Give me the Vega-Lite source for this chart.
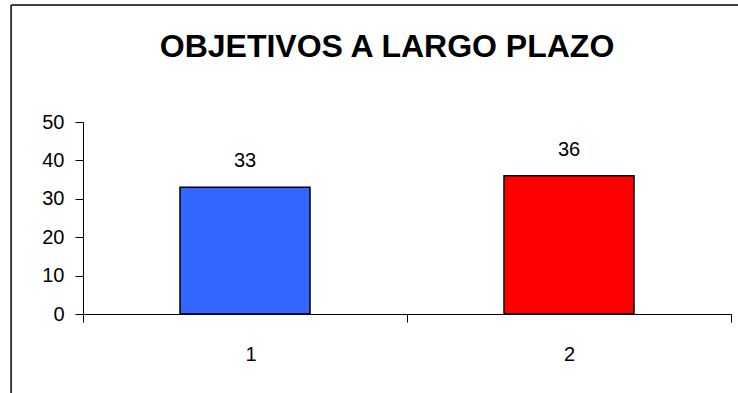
{
  "$schema": "https://vega.github.io/schema/vega-lite/v6.json",
  "autosize": {"type": "none"},
  "padding": {"left": 83, "top": 122, "right": 7, "bottom": 79},
  "width": 648,
  "height": 192,
  "background": "white",
  "title": {
    "text": "OBJETIVOS A LARGO PLAZO",
    "font": "Liberation Sans",
    "fontSize": 32,
    "fontWeight": "bold",
    "color": "black",
    "frame": "group",
    "anchor": "middle",
    "baseline": "alphabetic",
    "offset": 0,
    "dy": 85,
    "dx": -20
  },
  "config": {
    "view": {"stroke": null},
    "axis": {
      "labelFont": "Liberation Sans",
      "labelFontSize": 20,
      "labelColor": "black",
      "domainColor": "black",
      "tickColor": "black",
      "domainWidth": 1,
      "tickWidth": 1,
      "tickSize": 8,
      "grid": false,
      "title": null,
      "labelOverlap": false
    }
  },
  "datasets": {
    "bars": [
      {"category": 1, "value": 33},
      {"category": 2, "value": 36}
    ],
    "frame": [
      {"left": 0.278, "right": 3.0, "top": 80.5, "bottom": -30}
    ]
  },
  "encoding": {
    "x": {
      "type": "quantitative",
      "scale": {"domain": [0.5, 2.5], "nice": false, "zero": false, "padding": 0},
      "axis": {
        "values": [0.5, 1.5, 2.5],
        "labelExpr": "datum.value < 2 ? format(datum.value + 0.5, 'd') : ''",
        "labelOffset": 162,
        "labelPadding": 22,
        "labelAngle": 0
      }
    },
    "y": {
      "type": "quantitative",
      "scale": {"domain": [0, 50], "nice": false, "zero": true},
      "axis": {"values": [0, 10, 20, 30, 40, 50], "labelPadding": 11}
    }
  },
  "layer": [
    {
      "data": {"name": "bars"},
      "mark": {"type": "bar", "stroke": "black", "strokeWidth": 1.5, "size": 130},
      "encoding": {
        "x": {"field": "category"},
        "y": {"field": "value"},
        "color": {
          "field": "category",
          "type": "nominal",
          "scale": {"domain": [1, 2], "range": ["#3366FF", "#FF0000"]},
          "legend": null
        }
      }
    },
    {
      "data": {"name": "bars"},
      "mark": {
        "type": "text",
        "font": "Liberation Sans",
        "fontSize": 20,
        "color": "black",
        "baseline": "alphabetic",
        "dy": -20
      },
      "encoding": {
        "x": {"field": "category"},
        "y": {"field": "value"},
        "text": {"field": "value", "type": "quantitative"}
      }
    },
    {
      "data": {"name": "frame"},
      "mark": {"type": "rule", "color": "black", "strokeWidth": 1.5, "clip": false},
      "encoding": {
        "x": {"field": "left"},
        "x2": {"field": "right"},
        "y": {"field": "top"}
      }
    },
    {
      "data": {"name": "frame"},
      "mark": {"type": "rule", "color": "black", "strokeWidth": 1.5, "clip": false},
      "encoding": {
        "x": {"field": "left"},
        "y": {"field": "top"},
        "y2": {"field": "bottom"}
      }
    }
  ]
}
